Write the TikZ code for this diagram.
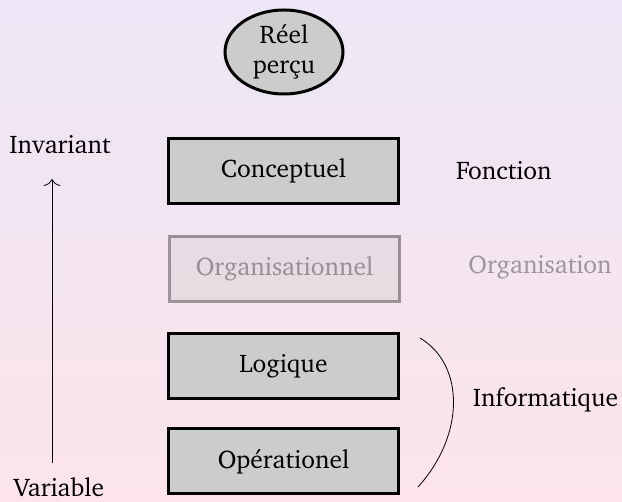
\documentclass[tikz,border=0pt]{standalone}
\usepackage[T1]{fontenc}
\usepackage{charter}
\usetikzlibrary{arrows.meta,shapes.geometric}
\definecolor{bgtop}{RGB}{236,230,246}
\definecolor{bgbot}{RGB}{252,228,234}
\definecolor{boxgray}{RGB}{204,204,204}
\newcommand\lblfont{\fontsize{25.5}{30}\selectfont}
\begin{document}
\begin{tikzpicture}[x=1pt,y=-1pt,
  lvl/.style={draw=black, line width=3pt, fill=boxgray, minimum width=230pt, minimum height=65pt, inner sep=0pt, font=\lblfont},
  faded/.style={opacity=0.35},
  lbl/.style={inner sep=0pt, font=\lblfont},
  thinline/.style={line width=0.8pt}]
\shade[top color=bgtop, bottom color=bgbot] (0,0) rectangle (622,502);
\useasboundingbox (0,0) rectangle (622,502);
\node[ellipse, draw=black, line width=3pt, fill=boxgray, minimum width=118pt, minimum height=84pt, inner sep=0pt, align=center, font=\lblfont] (reel) at (284,52) {R\'eel\\per\c{c}u};
\node[lvl] (conc) at (283.5,171) {Conceptuel};
\node[lvl, faded] (org) at (284.5,269) {Organisationnel};
\node[lvl] (log) at (283.5,366) {Logique};
\node[lvl] (op) at (283.5,461.5) {Op\'erationel};
\node[lbl, anchor=west] (fonc) at (456,171) {Fonction};
\node[lbl, faded] (orga) at (540,267) {Organisation};
\node[lbl] (info) at (545.5,400) {Informatique};
\node[lbl] (inv) at (60,145) {Invariant};
\node[lbl] (var) at (59,487) {Variable};
\coordinate (abot) at (52,463);
\coordinate (atop) at (52,179);
\draw[thinline, -{To[length=7pt,width=17pt]}] (abot) -- (atop);
\coordinate (btop) at (420,338);
\coordinate (bbot) at (418,487);
\draw[thinline] (btop) .. controls (465,365) and (465,435) .. (bbot);
\end{tikzpicture}
\end{document}
